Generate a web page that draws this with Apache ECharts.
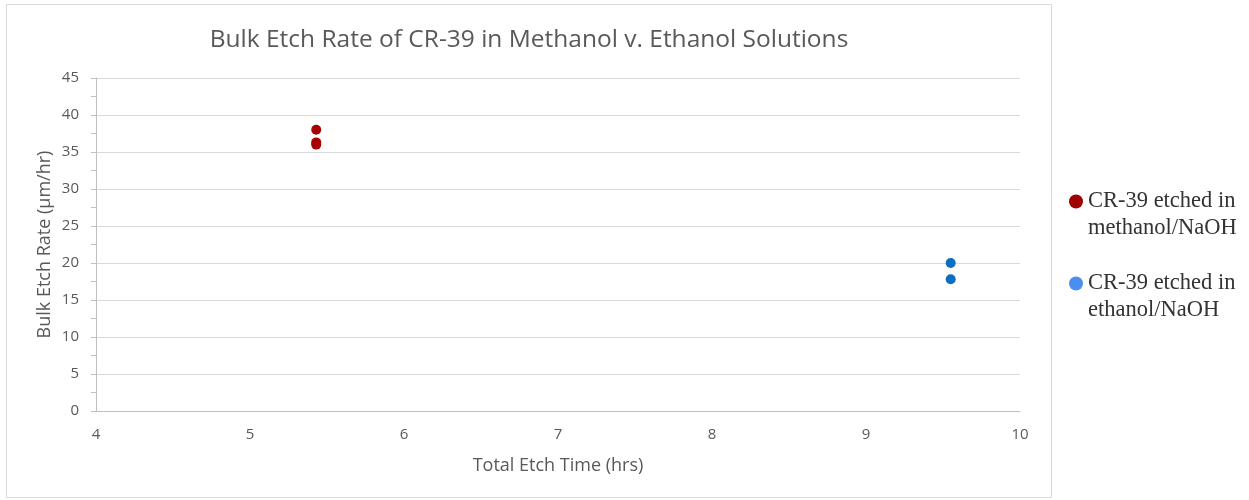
<!DOCTYPE html>
<html>
<head>
<meta charset="utf-8">
<script src="https://cdn.jsdelivr.net/npm/echarts@6/dist/echarts.min.js"></script>
<style>
  html, body { margin: 0; padding: 0; background: #fff; }
  #chart { width: 1249px; height: 500px; }
</style>
</head>
<body>
<div id="chart"></div>
<script>
// Etch time (hrs) and bulk etch rate (µm/hr) for each sample
const methanolTime = [5.43, 5.43, 5.43];
const methanolRate = [38.0, 36.3, 36.0];
const ethanolTime = [9.55, 9.55];
const ethanolRate = [20.0, 17.8];

const seriesNames = ['CR-39 etched in\nmethanol/NaOH', 'CR-39 etched in\nethanol/NaOH'];
const xTicks = { min: 4, max: 10, interval: 1 };
const yTicks = { min: 0, max: 45, interval: 5 };

const pairs = (xs, ys) => xs.map((x, i) => [x, ys[i]]);
const uiFont = '"Open Sans", Lato, sans-serif';

const chart = echarts.init(document.getElementById('chart'));
chart.setOption({
  animation: false,
  backgroundColor: '#fff',
  title: {
    text: 'Bulk Etch Rate of CR-39 in Methanol v. Ethanol Solutions',
    left: 524, top: 23, textAlign: 'center',
    textStyle: { fontFamily: uiFont, fontSize: 24.5, fontWeight: 'normal', color: '#595959' }
  },
  graphic: [{
    type: 'rect', x: 0, y: 0, silent: true,
    shape: { x: 6.5, y: 4.5, width: 1045, height: 493 },
    style: { fill: 'none', stroke: '#d9d9d9', lineWidth: 1 }
  }],
  grid: { left: 96, right: 229, top: 78, bottom: 89 },
  xAxis: {
    type: 'value', min: xTicks.min, max: xTicks.max, interval: xTicks.interval,
    name: 'Total Etch Time (hrs)', nameLocation: 'middle', nameGap: 46,
    nameTextStyle: { fontFamily: uiFont, fontSize: 18, color: '#595959' },
    axisLine: { show: true, onZero: false, lineStyle: { color: '#bfbfbf' } },
    axisTick: { show: false },
    axisLabel: { margin: 16, fontFamily: uiFont, fontSize: 15, color: '#595959' },
    splitLine: { show: false }
  },
  yAxis: {
    type: 'value', min: yTicks.min, max: yTicks.max, interval: yTicks.interval,
    name: 'Bulk Etch Rate (µm/hr)', nameLocation: 'middle', nameGap: 42,
    nameMoveOverlap: false,
    nameTextStyle: { fontFamily: uiFont, fontSize: 18, color: '#595959' },
    axisLine: { show: true, lineStyle: { color: '#bfbfbf' } },
    axisTick: { show: true, inside: false, length: 5, lineStyle: { color: '#bfbfbf' } },
    minorTick: { show: true, splitNumber: 2, length: 5, lineStyle: { color: '#bfbfbf' } },
    axisLabel: { margin: 17, fontFamily: uiFont, fontSize: 15, color: '#595959' },
    splitLine: { show: true, lineStyle: { color: '#d9d9d9' } }
  },
  legend: {
    orient: 'vertical', left: 1064, top: 156, itemGap: 1,
    icon: 'circle', itemWidth: 14, itemHeight: 14,
    // a leading blank line keeps each marker level with the first text line
    formatter: name => '\n' + name,
    textStyle: {
      fontFamily: '"Liberation Serif", "DejaVu Serif", serif', fontSize: 22.5, color: '#333',
      lineHeight: 27
    },
    data: [
      { name: seriesNames[0], itemStyle: { color: '#a00000', opacity: 1 } },
      { name: seriesNames[1], itemStyle: { color: '#4a8ef0', opacity: 1 } }
    ]
  },
  series: [
    {
      name: seriesNames[0], type: 'scatter', symbolSize: 10,
      itemStyle: { color: '#a80000', opacity: 1 },
      data: pairs(methanolTime, methanolRate)
    },
    {
      name: seriesNames[1], type: 'scatter', symbolSize: 10,
      itemStyle: { color: '#0a6fc2', opacity: 1 },
      data: pairs(ethanolTime, ethanolRate)
    }
  ]
});
</script>
</body>
</html>
